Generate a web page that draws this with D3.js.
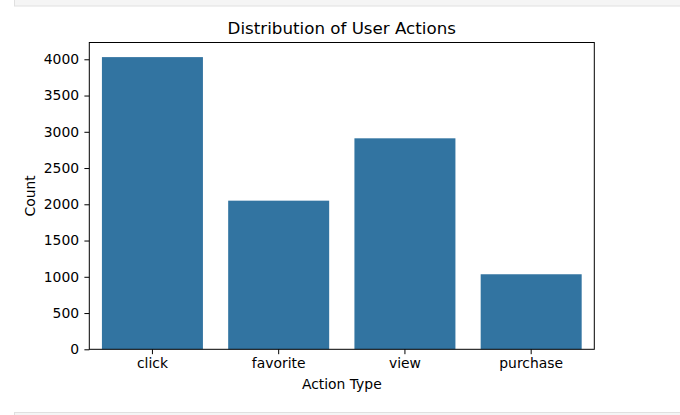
<!DOCTYPE html>
<html>
<head>
<meta charset="utf-8">
<script src="https://cdn.jsdelivr.net/npm/d3@7"></script>
<style>
  html, body { margin: 0; padding: 0; background: #fff; }
  svg { display: block; font-family: "DejaVu Sans", sans-serif; }
</style>
</head>
<body>
<svg id="chart" width="680" height="415"></svg>
<script>
const categories = ["click", "favorite", "view", "purchase"];
const counts = [4030, 2050, 2910, 1035];
const yTicks = [0, 500, 1000, 1500, 2000, 2500, 3000, 3500, 4000];

const svg = d3.select("#chart");

// notebook cell frame bands
svg.append("rect").attr("x", 14.5).attr("y", -2).attr("width", 680).attr("height", 8)
  .attr("fill", "#f5f5f5").attr("stroke", "#e0e0e0").attr("stroke-width", 1);
svg.append("rect").attr("x", 14.5).attr("y", 412.5).attr("width", 680).attr("height", 8)
  .attr("fill", "#f5f5f5").attr("stroke", "#e0e0e0").attr("stroke-width", 1);

const L = 89.3, R = 594.3, T = 42.5, B = 349.3;
const yMax = d3.max(counts) * 1.05;

const x = d3.scaleBand().domain(categories).range([L, R]).paddingInner(0.2).paddingOuter(0.1);
const y = d3.scaleLinear().domain([0, yMax]).range([B, T]);

svg.append("g").selectAll("rect").data(categories).join("rect")
  .attr("x", d => x(d))
  .attr("width", x.bandwidth())
  .attr("y", (d, i) => y(counts[i]))
  .attr("height", (d, i) => y(0) - y(counts[i]))
  .attr("fill", "#3274a1");

const yAxis = d3.axisLeft(y).tickValues(yTicks).tickSize(4.9).tickPadding(5.3).tickFormat(d3.format("d"));
const gy = svg.append("g").attr("transform", `translate(${L},0)`).call(yAxis);
gy.select(".domain").remove();
gy.selectAll("line").attr("stroke", "#000").attr("stroke-width", 1);
gy.selectAll("text").attr("font-size", 13.9).attr("fill", "#000").attr("font-family", "DejaVu Sans");

const xAxis = d3.axisBottom(x).tickSize(4.9).tickPadding(4.2);
const gx = svg.append("g").attr("transform", `translate(0,${B})`).call(xAxis);
gx.select(".domain").remove();
gx.selectAll("line").attr("stroke", "#000").attr("stroke-width", 1);
gx.selectAll("text").attr("font-size", 13.9).attr("fill", "#000").attr("font-family", "DejaVu Sans");

// spines
svg.append("rect").attr("x", L).attr("y", T).attr("width", R - L).attr("height", B - T)
  .attr("fill", "none").attr("stroke", "#000").attr("stroke-width", 1);

svg.append("text").attr("x", (L + R) / 2).attr("y", 34.3).attr("text-anchor", "middle")
  .attr("font-size", 16.7).attr("fill", "#000").text("Distribution of User Actions");

svg.append("text").attr("x", (L + R) / 2).attr("y", 388.5).attr("text-anchor", "middle")
  .attr("font-size", 13.9).attr("fill", "#000").text("Action Type");

svg.append("text").attr("transform", `translate(35,${(T + B) / 2}) rotate(-90)`)
  .attr("text-anchor", "middle").attr("font-size", 13.9).attr("fill", "#000").text("Count");
</script>
</body>
</html>
